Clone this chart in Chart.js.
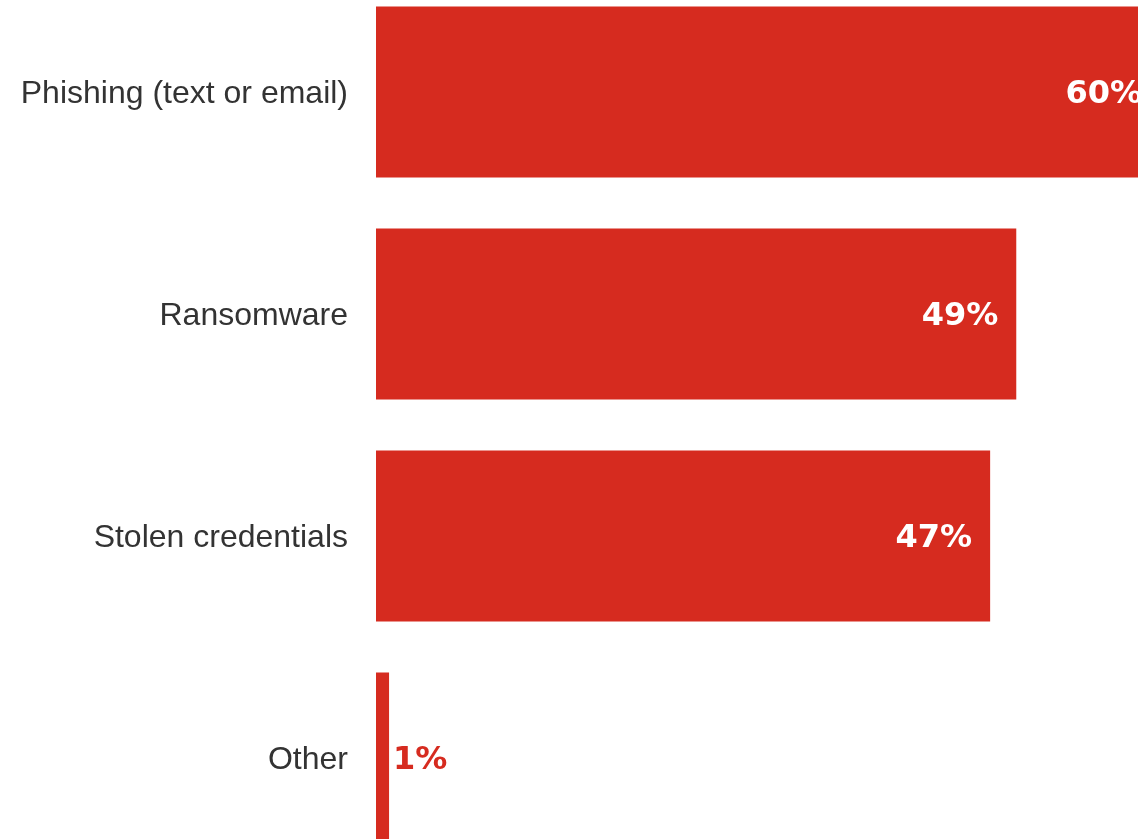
<!DOCTYPE html>
<html>
<head>
<meta charset="utf-8">
<script src="https://cdn.jsdelivr.net/npm/chart.js@4"></script>
<style>
  html, body { margin: 0; padding: 0; background: #ffffff; overflow: hidden; width: 1138px; height: 839px; }
  #wrap { position: absolute; left: 0; top: -19px; width: 1170px; height: 888px; }
</style>
</head>
<body>
<div id="wrap"><canvas id="chart"></canvas></div>
<script>
// Attack types and share of respondents (%)
const categories = ['Phishing (text or email)', 'Ransomware', 'Stolen credentials', 'Other'];
const shares = [60, 49, 47, 1];

const BAR_RED = '#d62b1f';

// Value labels: white inside the bar end, red just past short bars
const valueLabels = {
  id: 'valueLabels',
  afterDatasetsDraw(chart) {
    const ctx = chart.ctx;
    const meta = chart.getDatasetMeta(0);
    ctx.save();
    ctx.font = 'bold 32px "DejaVu Sans", Verdana, sans-serif';
    ctx.textBaseline = 'middle';
    meta.data.forEach((bar, i) => {
      const v = shares[i];
      const text = v + '%';
      if (v >= 10) {
        ctx.fillStyle = '#ffffff';
        ctx.textAlign = 'right';
        ctx.fillText(text, bar.x - 18, bar.y + 3);
      } else {
        ctx.fillStyle = BAR_RED;
        ctx.textAlign = 'left';
        ctx.fillText(text, bar.x + 4, bar.y + 3);
      }
    });
    ctx.restore();
  }
};

new Chart(document.getElementById('chart'), {
  type: 'bar',
  data: {
    labels: categories,
    datasets: [{
      data: shares,
      backgroundColor: BAR_RED,
      borderWidth: 0,
      categoryPercentage: 1.0,
      barPercentage: 0.77
    }]
  },
  options: {
    indexAxis: 'y',
    responsive: true,
    maintainAspectRatio: false,
    animation: false,
    layout: { padding: { left: 0, right: 10, top: 0, bottom: 0 } },
    plugins: {
      legend: { display: false },
      tooltip: { enabled: false }
    },
    scales: {
      x: {
        display: false,
        min: 0,
        max: 60
      },
      y: {
        grid: { display: false, drawTicks: false },
        border: { display: false },
        ticks: {
          padding: 28,
          labelOffset: 2,
          color: '#333333',
          font: { family: '"Liberation Sans", Arial, sans-serif', size: 32 }
        },
        afterFit(scale) {
          scale.width = 376;
          scale.paddingTop = 0;
          scale.paddingBottom = 0;
        }
      }
    }
  },
  plugins: [valueLabels]
});
</script>
</body>
</html>
